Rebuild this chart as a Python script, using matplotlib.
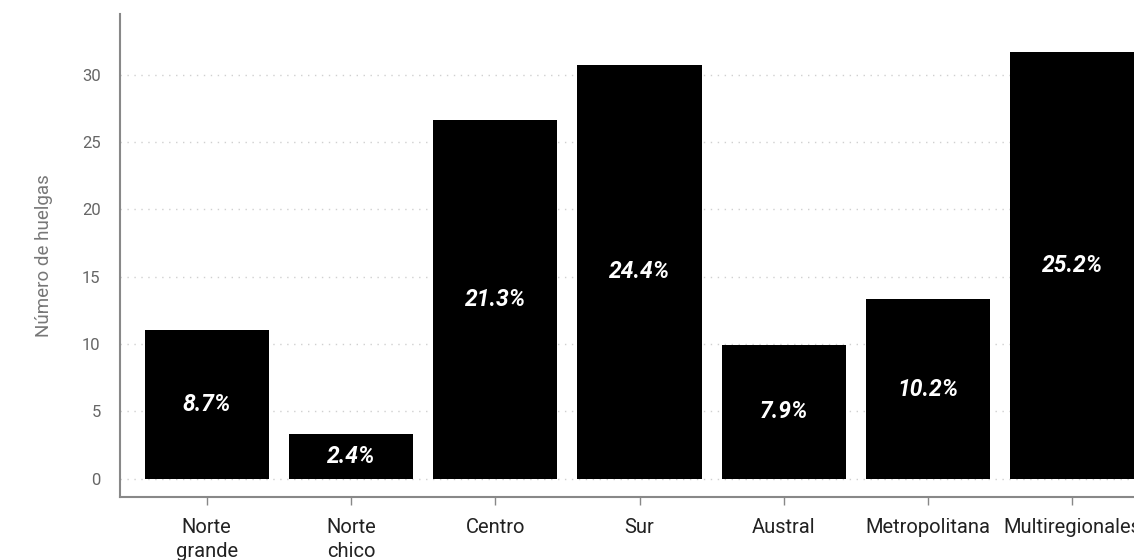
import matplotlib
matplotlib.use("Agg")
import matplotlib.pyplot as plt

plt.rcParams["font.family"] = ["Roboto", "DejaVu Sans"]

# Huelgas por zona
regiones = ["Norte\ngrande", "Norte\nchico", "Centro", "Sur", "Austral",
            "Metropolitana", "Multiregionales"]
huelgas = [11.0, 3.3, 26.6, 30.7, 9.9, 13.3, 31.7]
porcentajes = ["8.7%", "2.4%", "21.3%", "24.4%", "7.9%", "10.2%", "25.2%"]

W, H = 1134, 560
fig = plt.figure(figsize=(W / 100, H / 100), dpi=100)
# el eje se extiende un poco más allá del borde derecho
ax = fig.add_axes([120 / W, (H - 497) / H, 1039 / W, (497 - 14) / H])

x = range(len(regiones))
ax.bar(x, huelgas, width=0.86, color="black", zorder=3)

for i, (v, p) in enumerate(zip(huelgas, porcentajes)):
    ax.text(i, v / 2, p, ha="center", va="center", color="white",
            fontsize=16.5, fontweight="bold", fontstyle="italic", zorder=4)

ax.set_xlim(-0.6, 6.6)
ax.set_ylim(-1.37, 34.5)
ax.set_yticks([0, 5, 10, 15, 20, 25, 30])
ax.set_xticks(list(x))
ax.set_xticklabels(regiones, fontsize=14.5, color="#222222", linespacing=1.35)

ax.grid(axis="y", color="#d0d0d0", linestyle=(0, (1, 4)), linewidth=1, zorder=0)
ax.tick_params(axis="y", length=0, labelsize=12, labelcolor="#666666", pad=14)
ax.tick_params(axis="x", length=6, width=1, color="#888888", pad=9)

for s in ["top", "right"]:
    ax.spines[s].set_visible(False)
for s in ["left", "bottom"]:
    ax.spines[s].set_color("#888888")
    ax.spines[s].set_linewidth(1.5)

ax.set_ylabel("Número de huelgas", fontsize=13.5, color="#777777", labelpad=21)

fig.savefig("out.png", dpi=100)
